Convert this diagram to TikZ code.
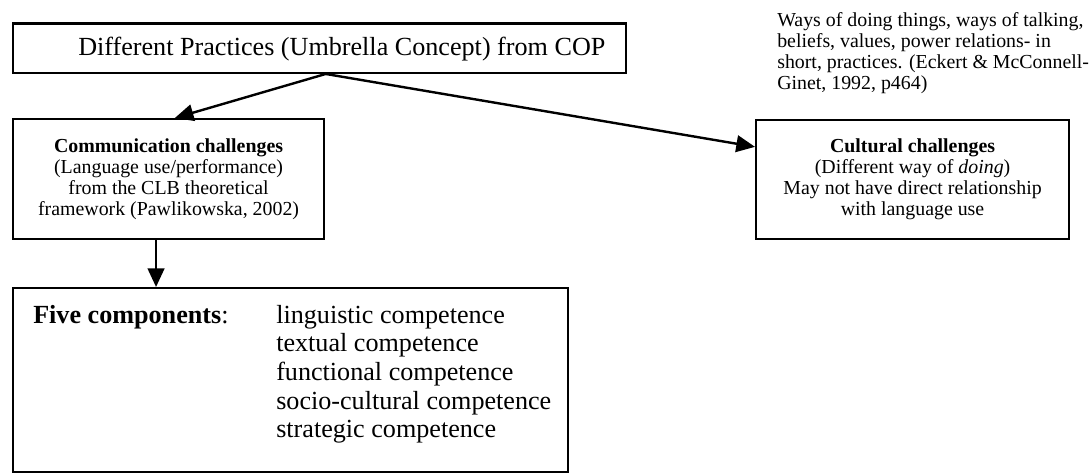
\documentclass[tikz,border=0pt]{standalone}
\usepackage{fontspec}
\setmainfont{Liberation Serif}
\usetikzlibrary{arrows.meta,calc}
\begin{document}
\begin{tikzpicture}[x=0.75pt,y=-0.75pt,
  box/.style={draw, line width=1.6pt, inner sep=0pt, anchor=north west},
  conn/.style={line width=1.8pt, -{Triangle[length=14pt,width=12.5pt]}},
  small/.style={font=\fontsize{14.9}{15.75}\selectfont, align=center},
  big/.style={font=\fontsize{19.6}{21.4}\selectfont},
]
\useasboundingbox (0,0) rectangle (1092,474);
% top box
\node[box, minimum width=459.75pt, minimum height=37pt] (top) at (12,22.5) {};
\node[anchor=base west, big, inner sep=0pt] (title) at (78,56) {Different Practices (Umbrella Concept) from COP};
% communication box
\node[box, minimum width=233.25pt, minimum height=90pt, small] (comm) at (12,118)
  {\textbf{Communication challenges}\\(Language use/performance)\\from the CLB theoretical\\framework (Pawlikowska, 2002)};
% cultural box
\node[box, minimum width=234.75pt, minimum height=89.25pt, small] (cult) at (755,119)
  {\textbf{Cultural challenges}\\(Different way of \textit{doing})\\May not have direct relationship\\with language use};
% annotation
\node[anchor=north west, small, align=left, inner sep=0pt] (note) at (777,12.5)
  {Ways of doing things, ways of talking,\\beliefs, values, power relations- in\\short, practices. (Eckert \& McConnell-\\Ginet, 1992, p464)};
% five components box
\node[box, minimum width=416.25pt, minimum height=138pt] (five) at (12,287) {};
\node[anchor=base west, big, inner sep=0pt] (fivelbl) at (33,323) {\textbf{Five components}:};
\node[anchor=north west, big, align=left, inner sep=0pt] (list) at (276,305)
  {linguistic competence\\textual competence\\functional competence\\socio-cultural competence\\strategic competence};
% connectors
\coordinate (fork) at ($(top.south west)!0.51!(top.south east)$);
\coordinate (commin) at ($(comm.north west)!0.52!(comm.north east)$);
\coordinate (cultin) at ($(cult.north west)!0.23!(cult.south west)$);
\coordinate (dn) at ($(comm.south west)!0.46!(comm.south east)$);
\draw[conn] (fork) -- (commin);
\draw[conn] (fork) -- (cultin);
\draw[conn] (dn) -- (dn |- five.north);
\end{tikzpicture}
\end{document}
